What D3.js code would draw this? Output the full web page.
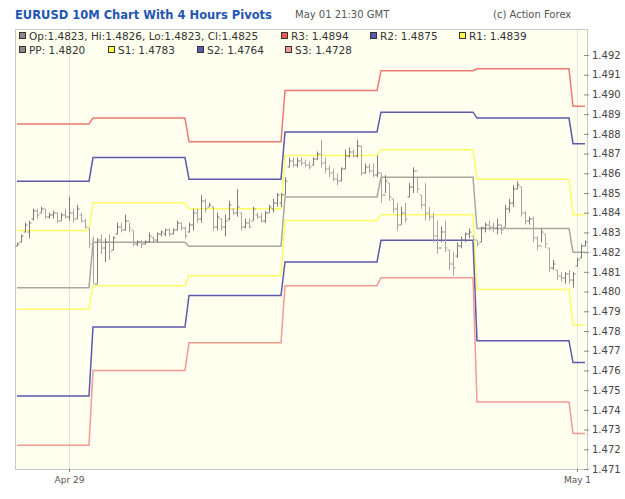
<!DOCTYPE html>
<html>
<head>
<meta charset="utf-8">
<script src="https://cdn.jsdelivr.net/npm/d3@7"></script>
<style>
  body { margin: 0; background: #fff; }
  svg text { font-family: "DejaVu Sans", Verdana, sans-serif; }
</style>
</head>
<body>
<div id="chart"></div>
<script>
// 10 minute bars, [open, high, low, close]
const bars = [
  [1.4823,1.4825,1.4823,1.4824],[1.4825,1.4829,1.4825,1.4828],[1.4830,1.4835,1.4830,1.4834],[1.4830,1.4836,1.4827,1.4835],
  [1.4837,1.4842,1.4836,1.4841],[1.4841,1.4842,1.4837,1.4839],[1.4840,1.4843,1.4840,1.4842],[1.4842,1.4842,1.4837,1.4838],
  [1.4838,1.4840,1.4837,1.4839],[1.4839,1.4841,1.4837,1.4840],[1.4840,1.4840,1.4835,1.4836],[1.4836,1.4840,1.4836,1.4839],
  [1.4839,1.4842,1.4837,1.4838],[1.4838,1.4848,1.4836,1.4840],[1.4840,1.4842,1.4835,1.4837],[1.4837,1.4844,1.4837,1.4842],
  [1.4839,1.4840,1.4835,1.4836],[1.4836,1.4837,1.4832,1.4833],[1.4832,1.4832,1.4822,1.4824],[1.4826,1.4828,1.4804,1.4804],
  [1.4804,1.4827,1.4804,1.4826],[1.4826,1.4829,1.4819,1.4822],[1.4822,1.4827,1.4815,1.4825],[1.4825,1.4829,1.4816,1.4820],
  [1.4821,1.4828,1.4821,1.4827],[1.4829,1.4835,1.4829,1.4833],[1.4833,1.4835,1.4830,1.4831],[1.4831,1.4839,1.4831,1.4836],
  [1.4836,1.4835,1.4830,1.4832],[1.4831,1.4831,1.4823,1.4824],[1.4824,1.4826,1.4823,1.4825],[1.4825,1.4826,1.4822,1.4824],
  [1.4824,1.4826,1.4824,1.4825],[1.4825,1.4830,1.4825,1.4828],[1.4827,1.4828,1.4825,1.4826],[1.4826,1.4830,1.4825,1.4829],
  [1.4829,1.4831,1.4828,1.4830],[1.4829,1.4832,1.4828,1.4831],[1.4831,1.4832,1.4828,1.4829],[1.4829,1.4832,1.4829,1.4831],
  [1.4831,1.4836,1.4831,1.4835],[1.4835,1.4835,1.4831,1.4832],[1.4832,1.4833,1.4827,1.4828],[1.4830,1.4835,1.4830,1.4834],
  [1.4834,1.4842,1.4831,1.4840],[1.4840,1.4842,1.4835,1.4837],[1.4837,1.4849,1.4835,1.4846],[1.4846,1.4847,1.4840,1.4842],
  [1.4843,1.4845,1.4843,1.4844],[1.4843,1.4843,1.4831,1.4833],[1.4833,1.4840,1.4831,1.4838],[1.4837,1.4837,1.4831,1.4833],
  [1.4833,1.4839,1.4828,1.4836],[1.4837,1.4846,1.4836,1.4844],[1.4842,1.4842,1.4839,1.4840],[1.4840,1.4852,1.4838,1.4843],
  [1.4840,1.4840,1.4831,1.4833],[1.4833,1.4837,1.4832,1.4835],[1.4835,1.4837,1.4832,1.4833],[1.4836,1.4843,1.4836,1.4842],
  [1.4839,1.4840,1.4837,1.4838],[1.4838,1.4840,1.4835,1.4836],[1.4836,1.4841,1.4835,1.4840],[1.4840,1.4844,1.4840,1.4843],
  [1.4842,1.4847,1.4840,1.4845],[1.4845,1.4850,1.4843,1.4849],[1.4845,1.4850,1.4843,1.4849],[1.4849,1.4858,1.4849,1.4856],
  [1.4863,1.4868,1.4863,1.4866],[1.4866,1.4868,1.4863,1.4864],[1.4864,1.4868,1.4863,1.4866],[1.4866,1.4868,1.4864,1.4865],
  [1.4865,1.4867,1.4863,1.4864],[1.4864,1.4866,1.4862,1.4863],[1.4864,1.4868,1.4864,1.4867],[1.4867,1.4871,1.4867,1.4870],
  [1.4870,1.4877,1.4863,1.4865],[1.4865,1.4868,1.4860,1.4862],[1.4862,1.4864,1.4858,1.4860],[1.4860,1.4862,1.4856,1.4857],
  [1.4857,1.4860,1.4854,1.4856],[1.4856,1.4863,1.4856,1.4862],[1.4862,1.4872,1.4862,1.4869],[1.4869,1.4873,1.4868,1.4871],
  [1.4871,1.4872,1.4868,1.4869],[1.4869,1.4877,1.4868,1.4874],[1.4874,1.4874,1.4859,1.4860],[1.4860,1.4865,1.4860,1.4863],
  [1.4863,1.4865,1.4860,1.4861],[1.4861,1.4865,1.4858,1.4859],[1.4859,1.4869,1.4858,1.4860],[1.4860,1.4860,1.4845,1.4849],
  [1.4849,1.4859,1.4850,1.4856],[1.4855,1.4855,1.4846,1.4848],[1.4847,1.4847,1.4840,1.4842],[1.4842,1.4845,1.4831,1.4834],
  [1.4834,1.4843,1.4834,1.4840],[1.4840,1.4845,1.4835,1.4837],[1.4848,1.4855,1.4848,1.4853],[1.4853,1.4863,1.4850,1.4861],
  [1.4861,1.4858,1.4850,1.4852],[1.4849,1.4849,1.4842,1.4844],[1.4844,1.4855,1.4836,1.4840],[1.4840,1.4843,1.4836,1.4838],
  [1.4838,1.4840,1.4825,1.4828],[1.4828,1.4836,1.4819,1.4822],[1.4822,1.4833,1.4825,1.4830],[1.4830,1.4836,1.4820,1.4822],
  [1.4821,1.4821,1.4811,1.4814],[1.4814,1.4820,1.4808,1.4812],[1.4818,1.4825,1.4817,1.4823],[1.4823,1.4828,1.4822,1.4826],
  [1.4826,1.4830,1.4825,1.4829],[1.4829,1.4832,1.4827,1.4830],[1.4828,1.4828,1.4825,1.4826],[1.4826,1.4826,1.4823,1.4824],
  [1.4825,1.4833,1.4825,1.4832],[1.4832,1.4835,1.4830,1.4834],[1.4834,1.4836,1.4831,1.4833],[1.4833,1.4835,1.4830,1.4832],
  [1.4832,1.4837,1.4829,1.4834],[1.4834,1.4834,1.4829,1.4831],[1.4833,1.4844,1.4833,1.4842],[1.4842,1.4847,1.4840,1.4845],
  [1.4845,1.4854,1.4843,1.4852],[1.4852,1.4856,1.4852,1.4854],[1.4853,1.4853,1.4838,1.4840],[1.4840,1.4841,1.4834,1.4836],
  [1.4836,1.4838,1.4834,1.4837],[1.4837,1.4838,1.4825,1.4827],[1.4827,1.4828,1.4821,1.4823],[1.4823,1.4832,1.4825,1.4830],
  [1.4829,1.4829,1.4822,1.4824],[1.4822,1.4822,1.4810,1.4812],[1.4812,1.4816,1.4811,1.4814],[1.4811,1.4811,1.4806,1.4808],
  [1.4808,1.4810,1.4805,1.4807],[1.4807,1.4810,1.4804,1.4809],[1.4809,1.4811,1.4804,1.4806],[1.4806,1.4810,1.4802,1.4809],
  [1.4813,1.4817,1.4813,1.4816],[1.4817,1.4824,1.4817,1.4823],[1.4823,1.4826,1.4823,1.4825]
];

// number of bars in each 4 hour pivot period
const periodBars = [19, 24, 24, 24, 24, 24, 4];

// pivot levels for each 4 hour period
const r3 = [1.4885, 1.4888, 1.4876, 1.4902, 1.4912, 1.4913, 1.4894];
const r2 = [1.4856, 1.4868, 1.4857, 1.4881, 1.4891, 1.4888, 1.4875];
const r1 = [1.4831, 1.4845, 1.4842, 1.4869, 1.4872, 1.4857, 1.4839];
const pp = [1.4802, 1.4825, 1.4823, 1.4848, 1.4858, 1.4832, 1.4820];
const s1 = [1.4791, 1.4803, 1.4808, 1.4836, 1.4839, 1.4801, 1.4783];
const s2 = [1.4747, 1.4782, 1.4798, 1.4815, 1.4826, 1.4775, 1.4764];
const s3 = [1.4722, 1.4760, 1.4774, 1.4803, 1.4807, 1.4744, 1.4728];

// axis ticks
const yTicks = d3.range(1471, 1493).map(v => v / 1000);
const xTickBars = [13, 140];
const xTickLabels = ["Apr 29", "May 1"];

const title = "EURUSD 10M Chart With 4 Hours Pivots";
const stamp = "May 01 21:30 GMT";
const credit = "(c) Action Forex";

// sizes
const width = 625, height = 499;
const plot = { left: 15, right: 587, top: 29, bottom: 469 };

const svg = d3.select('#chart').append('svg')
    .attr('width', width)
    .attr('height', height);

// scales: bar index on x, price on y
const xScale = d3.scaleLinear()
    .domain([-0.5, bars.length - 0.5])
    .range([plot.left, plot.right]);
const yScale = d3.scaleLinear()
    .domain([1.471, 1.492])
    .range([469, 55]);

// header
svg.append('text').attr('x', 15).attr('y', 19)
    .attr('font-size', 11.5).attr('font-weight', 'bold').attr('fill', '#1f56b4')
    .text(title);
svg.append('text').attr('x', 295).attr('y', 18)
    .attr('font-size', 10).attr('fill', '#555').text(stamp);
svg.append('text').attr('x', 493).attr('y', 18)
    .attr('font-size', 10).attr('fill', '#555').text(credit);

// plot background
svg.append('rect')
    .attr('x', plot.left + 0.5).attr('y', plot.top + 0.5)
    .attr('width', plot.right - plot.left).attr('height', plot.bottom - plot.top)
    .attr('fill', '#ffffef').attr('stroke', '#c8c8c8');

// vertical grid lines at date ticks
svg.append('g').selectAll('line').data(xTickBars).join('line')
    .attr('x1', d => Math.round(xScale(d)) + 0.5).attr('x2', d => Math.round(xScale(d)) + 0.5)
    .attr('y1', plot.top + 1).attr('y2', plot.bottom)
    .attr('stroke', '#e2e2d8');

// pivot lines: flat inside a period, sloped over the one bar between periods
const periodStart = [];
periodBars.reduce((acc, n) => { periodStart.push(acc); return acc + n; }, 0);

function pivotPoints(levels) {
    const pts = [];
    levels.forEach((v, p) => {
        pts.push([periodStart[p], v]);
        pts.push([periodStart[p] + periodBars[p] - 1, v]);
    });
    return pts;
}

const pivotSeries = [
    { values: r3, color: '#f07a72' },
    { values: r2, color: '#5a5aae' },
    { values: r1, color: '#ffff66' },
    { values: pp, color: '#a8a8a0' },
    { values: s1, color: '#ffff66' },
    { values: s2, color: '#5a5aae' },
    { values: s3, color: '#f39a92' }
];

const pivotLine = d3.line()
    .x(d => xScale(d[0]))
    .y(d => yScale(d[1]));

svg.append('g').selectAll('path').data(pivotSeries).join('path')
    .attr('fill', 'none')
    .attr('stroke', d => d.color)
    .attr('stroke-width', 1.5)
    .attr('d', d => pivotLine(pivotPoints(d.values)));

// OHLC bars
const barGroup = svg.append('g');
bars.forEach((b, i) => {
    const x = Math.round(xScale(i)) + 0.5;
    const color = b[3] >= b[0] ? '#7c7c7c' : '#a6a6a6';
    barGroup.append('path')
        .attr('fill', 'none')
        .attr('stroke', color)
        .attr('stroke-width', 1)
        .attr('d', 'M' + x + ',' + yScale(b[1]) + 'V' + yScale(b[2]) +
            'M' + (x - 2) + ',' + Math.round(yScale(b[0])) + 'H' + x +
            'M' + x + ',' + Math.round(yScale(b[3])) + 'H' + (x + 2));
});

// right price axis
const yAxis = svg.append('g')
    .attr('transform', 'translate(584,0)')
    .call(d3.axisRight(yScale).tickValues(yTicks).tickFormat(d3.format('.3f'))
        .tickSize(5).tickPadding(3));
yAxis.select('.domain').remove();
yAxis.selectAll('line').attr('stroke', '#888');
yAxis.selectAll('text').attr('font-size', 10).attr('fill', '#444')
    .attr('font-family', '"DejaVu Sans", Verdana, sans-serif');

// bottom date axis
const xAxis = svg.append('g')
    .attr('transform', 'translate(0,' + plot.bottom + ')')
    .call(d3.axisBottom(xScale).tickValues(xTickBars)
        .tickFormat((d, i) => xTickLabels[i]).tickSize(3).tickPadding(5));
xAxis.select('.domain').remove();
xAxis.selectAll('line').attr('stroke', '#888');
xAxis.selectAll('text').attr('font-size', 9).attr('fill', '#555')
    .attr('font-family', '"DejaVu Sans", Verdana, sans-serif');

// legend
const last = bars[bars.length - 1];
const fmt = d3.format('.4f');
const legendItems = [
    { x: 19, y: 36, color: '#8a8a8a', text: 'Op:' + fmt(last[0]) + ', Hi:' + fmt(last[1]) + ', Lo:' + fmt(last[2]) + ', Cl:' + fmt(last[3]) },
    { x: 281, y: 36, color: '#ee5a50', text: 'R3: ' + fmt(r3[r3.length - 1]) },
    { x: 370, y: 36, color: '#5a5aae', text: 'R2: ' + fmt(r2[r2.length - 1]) },
    { x: 459, y: 36, color: '#ffff44', text: 'R1: ' + fmt(r1[r1.length - 1]) },
    { x: 19, y: 50, color: '#8a8a8a', text: 'PP: ' + fmt(pp[pp.length - 1]) },
    { x: 108, y: 50, color: '#ffff44', text: 'S1: ' + fmt(s1[s1.length - 1]) },
    { x: 197, y: 50, color: '#5a5aae', text: 'S2: ' + fmt(s2[s2.length - 1]) },
    { x: 285, y: 50, color: '#f29a90', text: 'S3: ' + fmt(s3[s3.length - 1]) }
];
const legend = svg.append('g').selectAll('g').data(legendItems).join('g')
    .attr('transform', d => 'translate(' + d.x + ',' + d.y + ')');
legend.append('rect')
    .attr('x', 0.5).attr('y', -3.5).attr('width', 6).attr('height', 6)
    .attr('fill', d => d.color).attr('stroke', '#333');
legend.append('text')
    .attr('x', 10).attr('y', 4)
    .attr('font-size', 10.5).attr('fill', '#333')
    .text(d => d.text);
</script>
</body>
</html>
